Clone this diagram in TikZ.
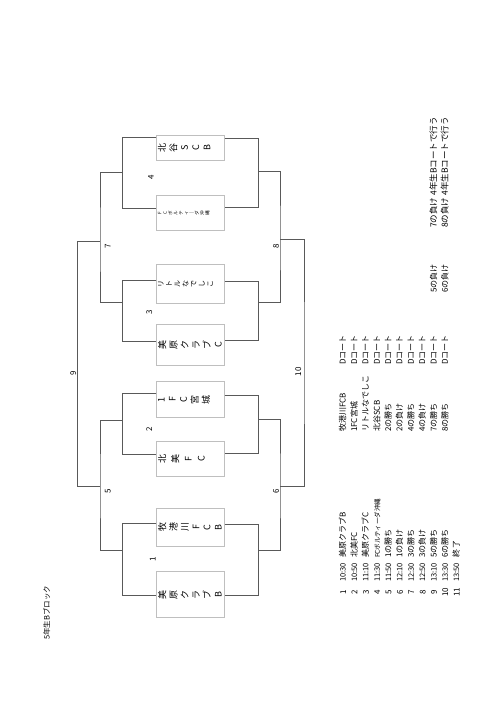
\documentclass[tikz,border=0pt]{standalone}
\usepackage{fontspec}
\setmainfont{Noto Sans CJK JP}
\begin{document}
\begin{tikzpicture}[x=1pt,y=-1pt,
  br/.style={draw=black!65, line width=0.8pt},
  tbox/.style={draw=black!25, line width=0.6pt, minimum width=67.6pt, inner sep=0pt},
  lab/.style={rotate=90, anchor=north, inner sep=0pt, align=center, font=\fontsize{9}{11.2}\selectfont},
  mnum/.style={rotate=90, inner sep=0pt, font=\fontsize{8}{9}\selectfont},
  tt/.style={rotate=90, anchor=west, inner sep=0pt, text height=6.5pt, text depth=1.5pt, font=\fontsize{8}{9}\selectfont}]
\useasboundingbox (0,0) rectangle (500,707);
\fill[white] (0,0) rectangle (500,707);

% team boxes
\node[tbox, minimum height=25.7pt] (bA) at (190.5,147.85) {};
\node[tbox, minimum height=34.3pt] (bB) at (190.5,212.85) {};
\node[tbox, minimum height=39.3pt] (bC) at (190.5,283.65) {};
\node[tbox, minimum height=40.7pt] (bD) at (190.5,344.65) {};
\node[tbox, minimum height=35.6pt] (bE) at (190.5,399.5) {};
\node[tbox, minimum height=34.3pt] (bF) at (190.5,458.85) {};
\node[tbox, minimum height=37.7pt] (bG) at (190.5,527.15) {};
\node[tbox, minimum height=45.6pt] (bH) at (190.5,594.5) {};

% box labels (vertical writing, page turned)
\node[lab] (lA) at ([xshift=1.5pt]bA.west) {北\\谷\\S\\C\\B};
\node[lab, font=\fontsize{4.6}{5.3}\selectfont] (lB) at ([xshift=1.5pt]bB.west) {F\\C\\ボ\\ル\\テ\\ィ\\｜\\ダ\\沖\\縄};
\node[lab, font=\fontsize{7}{8.2}\selectfont] (lC) at ([xshift=1.5pt]bC.west) {リ\\ト\\ル\\な\\で\\し\\こ};
\node[lab] (lD) at ([xshift=1.5pt]bD.west) {美\\原\\ク\\ラ\\ブ\\C};
\node[lab] (lE) at ([xshift=1.5pt]bE.west) {1\\F\\C\\宮\\城};
\node[lab, font=\fontsize{9}{13}\selectfont] (lF) at ([xshift=1.5pt]bF.west) {北\\美\\F\\C};
\node[lab] (lG) at ([xshift=1.5pt]bG.west) {牧\\港\\川\\F\\C\\B};
\node[lab] (lH) at ([xshift=1.5pt]bH.west) {美\\原\\ク\\ラ\\ブ\\B};

% junctions
\coordinate (o4l) at (122.7,172.3);
\coordinate (o3l) at (122.7,302.7);
\coordinate (o2l) at (122.7,420);
\coordinate (o1l) at (122.7,550);
\coordinate (o7l) at (100,241.7);
\coordinate (o5l) at (100,486.7);
\coordinate (o9l) at (77.5,364);
\coordinate (o4r) at (258.3,171.7);
\coordinate (o3r) at (258.3,302.7);
\coordinate (o2r) at (258.3,419.3);
\coordinate (o1r) at (258.3,550);
\coordinate (o8r) at (280,239);
\coordinate (o6r) at (280,486.7);
\coordinate (o10r) at (304,363);

% left bracket
\draw[br] (bA.west |- 0,137.3) -| (o4l) |- (bB.west |- 0,208.3);
\draw[br] (bC.west |- 0,280.7) -| (o3l) |- (bD.west |- 0,341.7);
\draw[br] (bE.west |- 0,393.3) -| (o2l) |- (bF.west |- 0,454.3);
\draw[br] (bG.west |- 0,523.3) -| (o1l) |- (bH.west |- 0,595.7);
\draw[br] (o4l) -| (o7l) |- (o3l);
\draw[br] (o2l) -| (o5l) |- (o1l);
\draw[br] (o7l) -| (o9l) |- (o5l);
% right bracket
\draw[br] (bA.east |- 0,138.3) -| (o4r) |- (bB.east |- 0,207.7);
\draw[br] (bC.east |- 0,281.7) -| (o3r) |- (bD.east |- 0,340.7);
\draw[br] (bE.east |- 0,395) -| (o2r) |- (bF.east |- 0,453.3);
\draw[br] (bG.east |- 0,524.3) -| (o1r) |- (bH.east |- 0,595);
\draw[br] (o4r) -| (o8r) |- (o3r);
\draw[br] (o2r) -| (o6r) |- (o1r);
\draw[br] (o8r) -| (o10r) |- (o6r);

% match numbers
\node[mnum] (m4) at (151,177.7) {4};
\node[mnum] (m3) at (149.3,312.7) {3};
\node[mnum] (m2) at (149.3,429.3) {2};
\node[mnum] (m1) at (152.7,559) {1};
\node[mnum] (m7) at (107.7,246.7) {7};
\node[mnum] (m5) at (107.7,491.7) {5};
\node[mnum] (m8) at (276,246) {8};
\node[mnum] (m6) at (276,491.7) {6};
\node[mnum] (m9) at (73.3,373.3) {9};
\node[mnum] (m10) at (298.3,371.7) {10};

% title
\node[tt, font=\fontsize{7.5}{9}\selectfont] (title) at (47,640) {5年生Bブロック};

% schedule
\foreach \i/\t/\a/\b in {1/10:30/美原クラブB/牧港川FCB, 2/10:50/北美FC/1FC宮城, 3/11:10/美原クラブC/リトルなでしこ, 4/11:30/{\fontsize{6.5}{7}\selectfont FCボルティーダ沖縄}/北谷SCB, 5/11:50/1の勝ち/2の勝ち, 6/12:10/1の負け/2の負け, 7/12:30/3の勝ち/4の勝ち, 8/12:50/3の負け/4の負け, 9/13:10/5の勝ち/7の勝ち, 10/13:30/6の勝ち/8の勝ち}{
  \pgfmathsetmacro\rx{343.2+(\i-1)*11.35}
  \node[mnum] (n\i) at (\rx,592) {\i};
  \node[tt, font=\fontsize{7.5}{9}\selectfont] (t\i) at (\rx,582) {\t};
  \node[tt] (a\i) at (\rx,558) {\a};
  \node[tt] (b\i) at (\rx,432) {\b};
  \node[tt] (c\i) at (\rx,365) {Dコート};
}
\node[mnum] (n11) at (456.7,592) {11};
\node[tt, font=\fontsize{7.5}{9}\selectfont] (t11) at (456.7,582) {13:50};
\node[tt] (a11) at (456.7,558) {終\,了};
\node[tt] (x9) at (434,293) {5の負け};
\node[tt] (x10) at (445.35,293) {6の負け};
\node[tt, font=\fontsize{8.5}{9}\selectfont] (y9) at (434,228) {7の負け 4年生Bコートで行う};
\node[tt, font=\fontsize{8.5}{9}\selectfont] (y10) at (445.35,228) {8の負け 4年生Bコートで行う};
\end{tikzpicture}
\end{document}
